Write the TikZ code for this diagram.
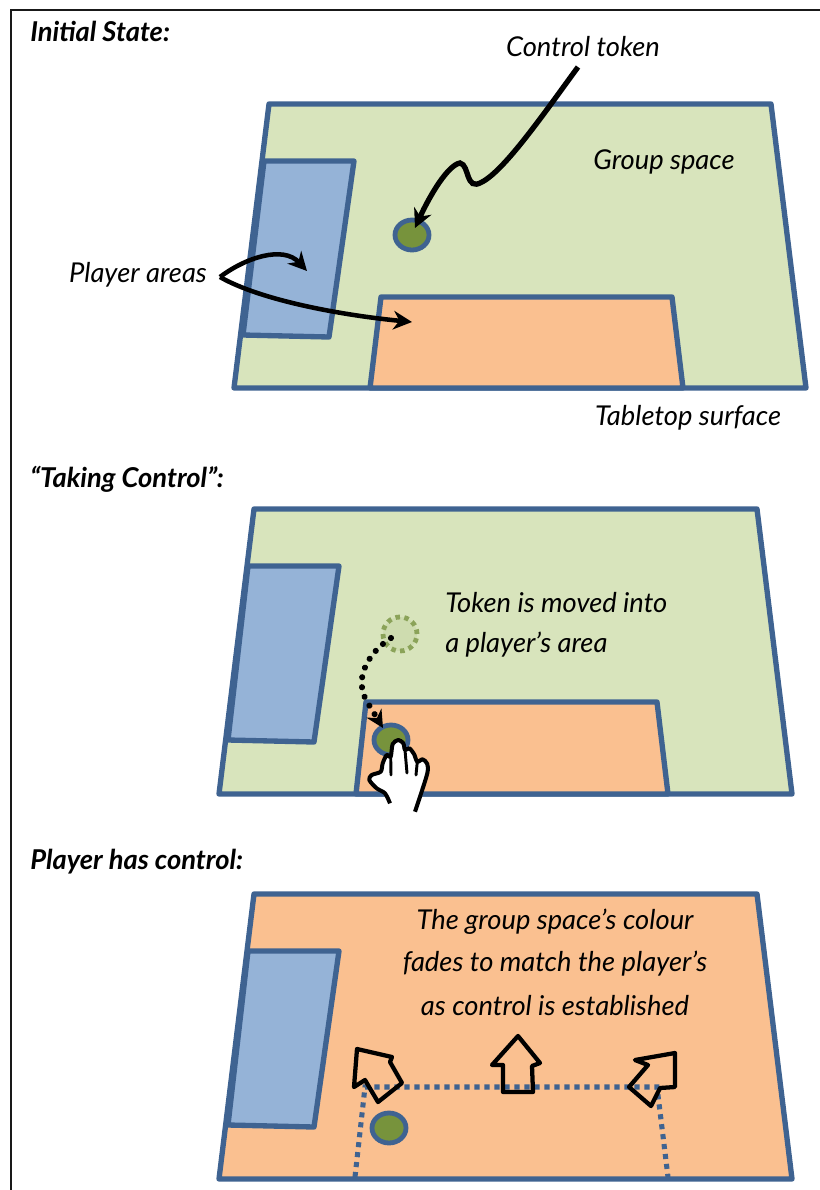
\documentclass[tikz,border=0pt]{standalone}
\usepackage{fontspec}
\setmainfont{Lato}
\usetikzlibrary{arrows.meta,shapes.geometric}
\definecolor{edgeblue}{HTML}{3F6391}
\definecolor{groupgreen}{HTML}{D8E4BC}
\definecolor{playerblue}{HTML}{95B3D7}
\definecolor{playerorange}{HTML}{FAC090}
\definecolor{tokengreen}{HTML}{77933C}
\tikzset{
  x=0.75pt,y=-0.75pt,
  surface/.style={draw=edgeblue,line width=4pt,line join=round},
  token/.style={ellipse,draw=edgeblue,fill=tokengreen,line width=3.6pt,minimum width=25.5pt,minimum height=22.5pt,inner sep=0pt},
  hand/.style={font=\itshape\fontsize{20.5pt}{24pt}\selectfont,inner sep=0pt},
  headtext/.style={font=\bfseries\itshape\fontsize{20.5pt}{24pt}\selectfont,inner sep=0pt,anchor=west},
  pointer/.style={draw=black,line width=3.4pt,-{Stealth[length=14pt,width=14pt]}},
  blockarrow/.style={draw=black,line width=3.2pt,line join=round},
  dotline/.style={draw=edgeblue,line width=3.8pt,dash pattern=on 3.8pt off 3.7pt},
}
\begin{document}
\begin{tikzpicture}
\useasboundingbox (0,0) rectangle (820,1190);
\draw[black!90,line width=1.6pt] (11,1190) -- (11,10) -- (820,10);

% Panel 1
\draw[surface,fill=groupgreen] (269,104) -- (771,104) -- (806,388) -- (234,388) -- cycle;
\draw[surface,fill=playerblue] (264,161) -- (354,161) -- (329,337) -- (243,335) -- cycle;
\draw[surface,fill=playerorange] (381,297) -- (672,297) -- (683,388) -- (370,388) -- cycle;
\node[token] (tokenA) at (412,235) {};
\node[headtext] (headA) at (30,31) {Initial State:};
\node[hand] (ctrl) at (583,47) {Control token};
\node[hand] (group) at (664,162) {Group space};
\node[hand] (areas) at (138,275) {Player areas};
\node[hand] (table) at (688,418) {Tabletop surface};
\coordinate (ctrlStart) at (578,67);
\coordinate (ctrlEnd) at (415,228);
\coordinate (areaStart) at (220,277);
\coordinate (areaBlue) at (307,271);
\coordinate (areaOrange) at (412,322);
\draw[pointer,line width=4pt] (ctrlStart) .. controls (545,112) and (505,170) .. (482,182)
  .. controls (465,192) and (470,165) .. (460,163)
  .. controls (448,165) and (430,195) .. (ctrlEnd);
\draw[pointer] (areaStart) .. controls (245,258) and (283,245) .. (areaBlue);
\draw[pointer] (areaStart) .. controls (260,300) and (340,315) .. (areaOrange);

% Panel 2
\draw[surface,fill=groupgreen] (254,509) -- (757,509) -- (792,794) -- (219,794) -- cycle;
\draw[surface,fill=playerblue] (248,566) -- (339,566) -- (314,742) -- (228,740) -- cycle;
\draw[surface,fill=playerorange] (366,702) -- (657,702) -- (668,794) -- (356,794) -- cycle;
\node[circle,draw=tokengreen!85,dash pattern=on 3.4pt off 3.27pt,line width=3.6pt,fill=groupgreen!90!tokengreen,minimum size=25.5pt,inner sep=0pt] (ghost) at (400,634) {};
\node[token] (tokenB) at (391,740) {};
\node[headtext] (headB) at (30,479) {“Taking Control”:};
\node[hand,anchor=west] (moveA) at (445,603) {Token is moved into};
\node[hand,anchor=west] (moveB) at (445,645) {a player’s area};
\coordinate (dragStart) at (391,638);
\coordinate (dragEnd) at (383,728);
\draw[black,line width=4.6pt,line cap=round,dash pattern=on 0.01pt off 7.5pt,-{Stealth[length=13pt,width=13pt]}] (dragStart) .. controls (372,650) and (353,675) .. (366,700) -- (dragEnd);
\draw[black,fill=white,line width=3pt,line join=round]
  plot[smooth,tension=0.5] coordinates {(415,811.7) (420,796.7) (427.3,773.3) (427.3,764) (422.7,759.3) (417.3,761.7) (414,754) (409.3,748.3) (405,750) (403.3,743.3) (398.3,740) (392.7,744) (390.7,756.7) (386.7,755) (382.7,763.3) (380.7,771.7) (371.7,775) (369.3,780) (376.7,788.3) (385,793.3) (390,803.3)};
\draw[black,line width=2.2pt,line cap=round] (417.3,761.7) -- (416,775);
\draw[black,line width=2.2pt,line cap=round] (405,750) -- (407,773);
\draw[black,line width=2.2pt,line cap=round] (390.7,756.7) -- (391,775);

% Panel 3
\draw[surface,fill=playerorange] (254,894) -- (757,894) -- (792,1179) -- (219,1179) -- cycle;
\draw[surface,fill=playerblue] (248,951) -- (339,951) -- (314,1127) -- (228,1125) -- cycle;
\node[token] (tokenC) at (389,1128) {};
\draw[dotline] (355,1177) -- (365,1087) -- (657,1087) -- (668,1177);
\node[headtext] (headC) at (30,862) {Player has control:};
\node[hand] (fadeA) at (555,922) {The group space’s colour};
\node[hand] (fadeB) at (555,964) {fades to match the player’s};
\node[hand] (fadeC) at (555,1006) {as control is established};
\draw[blockarrow] (357,1049) -- (392,1057) -- (390,1062) -- (402,1083) -- (378,1102) -- (365,1080) -- (354,1087) -- cycle;
\draw[blockarrow] (518,1036) -- (540,1063) -- (532,1066) -- (533,1092) -- (503,1092) -- (503,1065) -- (492,1065) -- cycle;
\draw[blockarrow] (675,1053) -- (675,1087) -- (660,1088) -- (651,1106) -- (629,1087) -- (648,1065) -- (635,1060) -- cycle;
\end{tikzpicture}
\end{document}
